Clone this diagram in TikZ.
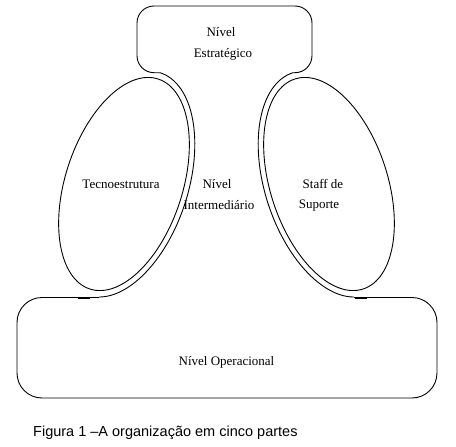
\documentclass[tikz,border=0pt]{standalone}
\usepackage{fontspec}
\setmainfont{Liberation Serif}
\newfontfamily\capfont{Liberation Sans}
\begin{document}
\begin{tikzpicture}[x=1pt,y=1pt,
  outline/.style={line width=0.9pt,black},
  lbl/.style={anchor=base,inner sep=0pt,font=\fontsize{13}{15}\selectfont},
  caplbl/.style={anchor=base west,inner sep=0pt,font=\capfont\fontsize{14.5}{17}\selectfont}]
\useasboundingbox (0,0) rectangle (456,-447);
% top box (Nivel Estrategico)
\draw[outline,rounded corners=17] (160.2,-72.7) -- (137,-72.7) -- (137,-6) -- (312,-6) -- (312,-72.7) -- (292.8,-72.7);
% left ellipse (Tecnoestrutura)
\draw[outline,shift={(124,-184)},rotate=-18] (0,0) ellipse [x radius=58.6,y radius=110.4];
\draw[outline,shift={(124,-184)},rotate=-18] (90:64 and 117) arc[start angle=90,end angle=-80,x radius=64,y radius=117];
% right ellipse (Staff de Suporte)
\draw[outline,shift={(329,-184)},rotate=18] (0,0) ellipse [x radius=58.6,y radius=110.4];
\draw[outline,shift={(329,-184)},rotate=18] (90:64 and 117) arc[start angle=90,end angle=260,x radius=64,y radius=117];
% bottom box (Nivel Operacional)
\draw[outline,rounded corners=25] (99,-297.5) -- (17,-297.5) -- (17,-398) -- (437,-398) -- (437,-297.5) -- (354,-297.5);
\draw[line width=2pt] (78,-298) -- (90,-298);
\draw[line width=2pt] (355,-298) -- (367,-298);
% texts
\node[lbl] (est1) at (221,-37) {Nível};
\node[lbl] (est2) at (223,-57) {Estratégico};
\node[lbl] (tec) at (121,-188) {Tecnoestrutura};
\node[lbl] (int1) at (217,-188) {Nível};
\node[lbl] (int2) at (219,-209) {Intermediário};
\node[lbl] (sup1) at (323,-188) {Staff de};
\node[lbl] (sup2) at (319,-208) {Suporte};
\node[lbl] (op) at (226.5,-365) {Nível Operacional};
\node[caplbl] (cap) at (33,-436.7) {Figura 1 –A organização em cinco partes};
\end{tikzpicture}
\end{document}
